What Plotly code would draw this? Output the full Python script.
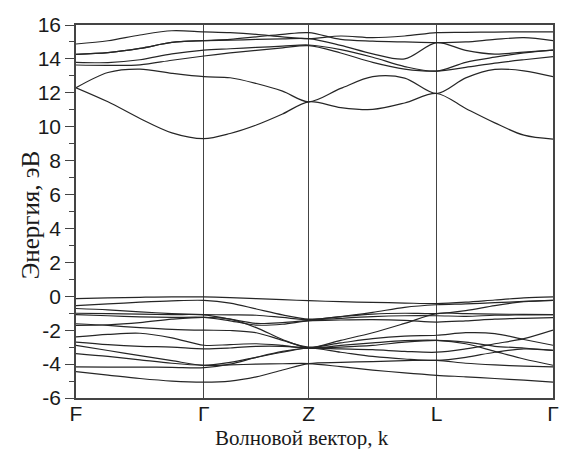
import plotly.graph_objects as go

# high-symmetry points (path distance, arbitrary units)
sym_labels = ["F", "Γ", "Z", "L", "Γ"]
sym_k = [0.0, 1.0, 1.82, 2.82, 3.73]

# sample k-grid: quarter points along each segment
k_grid = [0.0, 0.25, 0.5, 0.75, 1.0,
          1.205, 1.41, 1.615, 1.82,
          2.07, 2.32, 2.57, 2.82,
          3.0475, 3.275, 3.5025, 3.73]

# conduction bands (eV)
u1 = [12.30, 11.47, 10.49, 9.64, 9.30, 9.60, 10.10, 10.75, 11.47, 11.13, 11.02, 11.40, 11.96, 11.08, 10.23, 9.50, 9.27]
u2 = [12.30, 13.20, 13.40, 13.15, 12.95, 12.89, 12.55, 12.10, 11.47, 12.26, 12.95, 12.87, 11.96, 12.88, 13.38, 13.30, 12.95]
u3 = [13.64, 13.62, 13.65, 13.92, 14.17, 14.35, 14.50, 14.65, 14.78, 14.35, 13.80, 13.40, 13.28, 13.50, 13.75, 13.95, 14.13]
u4 = [13.80, 13.78, 13.95, 14.30, 14.52, 14.60, 14.68, 14.75, 14.82, 14.55, 14.10, 13.55, 13.28, 13.80, 14.10, 14.35, 14.52]
u5 = [14.27, 14.37, 14.62, 14.97, 15.08, 15.10, 15.15, 15.18, 15.20, 14.80, 14.30, 14.00, 14.96, 14.50, 14.28, 14.40, 14.52]
u6 = [14.27, 14.37, 14.62, 14.97, 15.08, 15.15, 15.30, 15.45, 15.55, 15.15, 15.05, 15.00, 14.96, 15.00, 15.15, 15.25, 15.08]
u7 = [14.88, 15.07, 15.41, 15.66, 15.60, 15.55, 15.45, 15.30, 15.20, 15.35, 15.25, 15.35, 15.55, 15.57, 15.58, 15.60, 15.60]

# valence bands (eV)
v1 = [-0.14, -0.10, -0.06, -0.03, -0.04, -0.08, -0.14, -0.20, -0.26, -0.32, -0.36, -0.40, -0.43, -0.35, -0.22, -0.10, -0.04]
v2 = [-0.55, -0.45, -0.35, -0.27, -0.24, -0.40, -0.75, -1.10, -1.35, -1.20, -0.95, -0.65, -0.50, -0.45, -0.38, -0.30, -0.24]
v3 = [-0.72, -0.80, -0.92, -1.02, -1.08, -1.10, -1.12, -1.25, -1.38, -1.20, -1.05, -1.00, -1.02, -0.85, -0.55, -0.32, -0.24]
v4 = [-1.00, -1.02, -1.05, -1.08, -1.10, -1.35, -1.60, -1.55, -1.42, -1.30, -1.20, -1.15, -1.15, -1.18, -1.12, -1.10, -1.08]
v5 = [-1.08, -1.15, -1.22, -1.25, -1.24, -1.45, -1.70, -1.65, -1.45, -1.40, -1.38, -1.42, -1.52, -1.45, -1.35, -1.30, -1.26]
v6 = [-1.62, -1.72, -1.85, -1.95, -2.00, -2.02, -2.15, -2.60, -3.00, -2.75, -2.50, -2.35, -2.30, -2.15, -2.20, -2.55, -2.89]
v7 = [-1.72, -1.68, -1.55, -1.35, -1.24, -1.35, -1.85, -2.55, -3.05, -2.90, -2.75, -2.62, -2.60, -2.80, -3.25, -3.70, -4.07]
v8 = [-2.40, -2.25, -2.18, -2.45, -2.89, -2.85, -2.80, -2.90, -3.05, -2.60, -2.15, -1.60, -1.02, -1.02, -1.05, -1.07, -1.08]
v9 = [-2.70, -2.85, -2.95, -3.00, -3.10, -3.05, -2.95, -2.95, -3.05, -3.10, -3.15, -3.25, -3.30, -3.10, -2.80, -2.50, -2.00]
v10 = [-2.90, -3.20, -3.50, -3.80, -4.07, -3.90, -3.60, -3.30, -3.05, -3.30, -3.55, -3.70, -3.78, -3.60, -3.30, -3.10, -3.19]
v11 = [-3.38, -3.55, -3.75, -3.95, -4.07, -4.05, -4.00, -3.98, -3.97, -4.15, -4.35, -4.52, -4.66, -4.75, -4.85, -4.95, -5.06]
v12 = [-4.17, -4.18, -4.18, -4.19, -4.21, -4.00, -3.60, -3.25, -3.05, -3.00, -2.90, -2.70, -2.60, -2.70, -2.95, -3.05, -3.19]
v13 = [-4.45, -4.65, -4.85, -5.00, -5.06, -5.00, -4.75, -4.35, -3.97, -3.90, -3.85, -3.80, -3.78, -3.95, -4.05, -4.12, -4.17]

bands = [u1, u2, u3, u4, u5, u6, u7,
         v1, v2, v3, v4, v5, v6, v7, v8, v9, v10, v11, v12, v13]

y_tickvals = [-6, -4, -2, 0, 2, 4, 6, 8, 10, 12, 14, 16]
y_ticktext = ["-6", "-4", "-2", "0", "2", "4", "6", "8", "10", "12", "14", "16"]
y_minorvals = [-5, -3, -1, 1, 3, 5, 7, 9, 11, 13, 15]

x_title = "Волновой вектор, k"
y_title = "Энергия, эВ"

fig = go.Figure()
for b in bands:
    fig.add_trace(go.Scatter(x=k_grid, y=b, mode="lines",
                             line=dict(color="#262626", width=1.2, shape="spline", smoothing=0.9),
                             showlegend=False, hoverinfo="skip"))

axis_color = "#444444"
text_color = "#1a1a1a"
serif = "Liberation Serif, Times New Roman"
fig.update_layout(
    width=566, height=449,
    margin=dict(l=76, r=13, t=25, b=51, autoexpand=False),
    paper_bgcolor="white", plot_bgcolor="white",
    showlegend=False,
    xaxis=dict(
        range=[sym_k[0], sym_k[-1]], automargin=False,
        tickmode="array", tickvals=sym_k, ticktext=sym_labels,
        ticks="", ticklabelstandoff=-4, showgrid=True, gridcolor=axis_color, gridwidth=1.2,
        showline=True, linecolor=axis_color, linewidth=1.5, mirror=True,
        zeroline=False,
        tickfont=dict(family="Liberation Sans, Arial", size=21, color=text_color),
    ),
    yaxis=dict(
        range=[-6, 16], automargin=False,
        tickmode="array", tickvals=y_tickvals, ticktext=y_ticktext,
        ticks="outside", ticklen=9, tickwidth=1.3, tickcolor=axis_color,
        minor=dict(tickmode="array", tickvals=y_minorvals, ticks="outside",
                   ticklen=5, tickwidth=1.2, tickcolor=axis_color, showgrid=False),
        showgrid=False, zeroline=False,
        showline=True, linecolor=axis_color, linewidth=1.5, mirror=True,
        tickfont=dict(family="Liberation Sans, Arial", size=21, color=text_color),
    ),
    annotations=[
        dict(text=x_title, xref="paper", yref="paper", x=0.474, y=-0.106,
             xanchor="center", yanchor="middle", showarrow=False, borderpad=0,
             font=dict(family=serif, size=21, color=text_color)),
        dict(text=y_title, xref="paper", yref="paper", x=-0.0964, y=0.49,
             xanchor="center", yanchor="middle", textangle=-90, showarrow=False,
             borderpad=0, font=dict(family=serif, size=25, color=text_color)),
    ],
)

fig.write_html("out.html")
